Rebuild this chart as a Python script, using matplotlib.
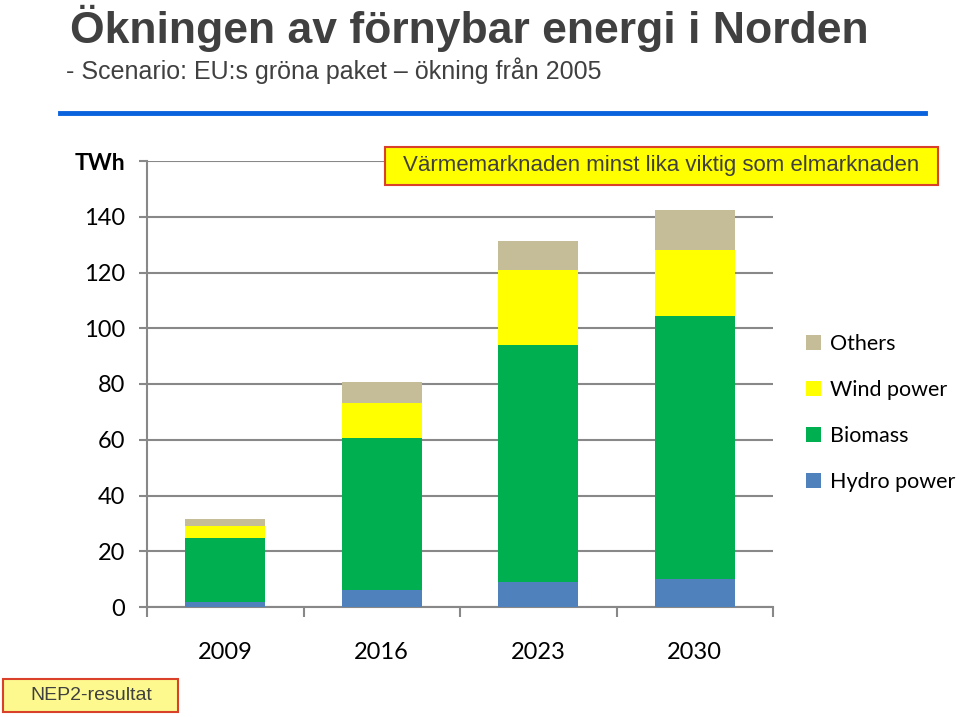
import numpy as np
import matplotlib.pyplot as plt
from matplotlib.patches import Rectangle

years = ["2009", "2016", "2023", "2030"]
hydro = [1.9, 6.1, 8.8, 10.0]
biomass = [22.9, 54.6, 85.1, 94.3]
wind = [4.1, 12.5, 27.1, 23.6]
others = [2.8, 7.5, 10.3, 14.5]
yticks = [0, 20, 40, 60, 80, 100, 120, 140, 160]
ylabels = ["0", "20", "40", "60", "80", "100", "120", "140", "TWh"]

plt.rcParams['font.family'] = ['Lato', 'DejaVu Sans']

fig = plt.figure(figsize=(9.59, 7.17), dpi=100)
ax = fig.add_axes([147 / 959, 110 / 717, 626 / 959, 446 / 717])

x = np.arange(len(years))
w = 0.51
series = [("Hydro power", hydro, "#4f81bd"),
          ("Biomass", biomass, "#00b050"),
          ("Wind power", wind, "#ffff00"),
          ("Others", others, "#c4bd97")]
bottom = np.zeros(len(years))
handles = []
for name, vals, col in series:
    b = ax.bar(x, vals, w, bottom=bottom, color=col, label=name, zorder=3)
    handles.append(b)
    bottom += np.array(vals)

grid_col = "#888888"
ax.set_xlim(-0.5, 3.5)
ax.set_ylim(0, 160)
ax.set_yticks(yticks)
ax.set_yticklabels(ylabels)
ax.yaxis.grid(True, color=grid_col, lw=1.5, zorder=0)
ax.set_axisbelow(True)
for s in ["top", "right"]:
    ax.spines[s].set_visible(False)
for s in ["left", "bottom"]:
    ax.spines[s].set_color(grid_col)
    ax.spines[s].set_linewidth(1.5)
ax.tick_params(axis='y', length=6, width=1.5, color=grid_col, pad=10, labelsize=17)
lab = ax.get_yticklabels()[-1]
lab.set_fontweight('bold')
lab.set_fontsize(16.5)

ax.set_xticks(x)
ax.set_xticklabels(years)
ax.set_xticks(np.arange(-0.5, 4, 1), minor=True)
ax.tick_params(axis='x', which='major', length=0, pad=25, labelsize=17)
ax.tick_params(axis='x', which='minor', length=7, width=1.5, color=grid_col)

leg = fig.legend(handles[::-1], [h.get_label() for h in handles[::-1]],
                 loc='upper left', bbox_to_anchor=(797 / 959, 1 - 325 / 717),
                 frameon=False, fontsize=15.5, handlelength=0.7, handleheight=0.7,
                 handletextpad=0.45, labelspacing=1.22, borderaxespad=0)

dark = "#404040"
fig.text(70 / 959, 1 - 28 / 717, "Ökningen av förnybar energi i Norden", family=['Liberation Sans'],
         fontsize=32, fontweight='bold', color=dark, va='center', ha='left')
fig.text(66 / 959, 1 - 71 / 717, "- Scenario: EU:s gröna paket – ökning från 2005", family=['Liberation Sans'],
         fontsize=18, color=dark, va='center', ha='left')
fig.add_artist(plt.Line2D([60 / 959, 925 / 959], [1 - 113 / 717] * 2, color="#0a62dc", lw=3.5))

fig.add_artist(Rectangle((385 / 959, 1 - 185 / 717), 553 / 959, 38 / 717, transform=fig.transFigure,
                         facecolor="#ffff00", edgecolor="#d9412a", lw=1.5))
fig.text(661 / 959, 1 - 166 / 717, "Värmemarknaden minst lika viktig som elmarknaden",
         family=['Liberation Sans'], fontsize=16, color=dark, va='center', ha='center')

fig.add_artist(Rectangle((3 / 959, 1 - 712 / 717), 175 / 959, 33 / 717, transform=fig.transFigure,
                         facecolor="#fdf98f", edgecolor="#d9412a", lw=1.5))
fig.text(91 / 959, 1 - 696 / 717, "NEP2-resultat", family=['Liberation Sans'], fontsize=14,
         color=dark, va='center', ha='center')

fig.savefig("out.png", dpi=100)
